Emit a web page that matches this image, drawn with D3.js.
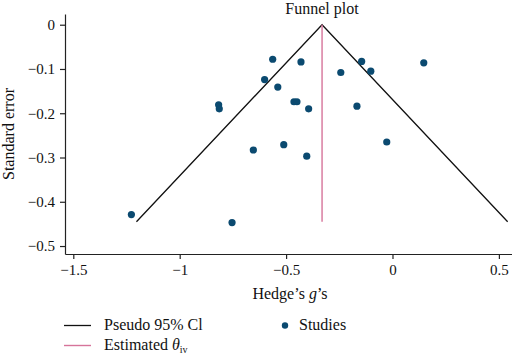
<!DOCTYPE html>
<html lang="en">
<head>
<meta charset="UTF-8">
<title>Funnel plot</title>
<script src="https://cdn.jsdelivr.net/npm/d3@7"></script>
<style>
    body { margin: 0; background: #fff; }
    text { font-family: 'Liberation Serif', 'Times New Roman', serif; font-size: 16px; fill: #111; }
    .domain, .tick line { stroke: #222; }
</style>
</head>
<body>
<svg id="chart" width="512" height="360"></svg>
<script>
// studies: Hedge's g and (negative) standard error
const hedgesG = [-0.563, -0.430, -0.601, -0.539, -0.817, -0.814, -0.463, -0.449, -0.394, -0.654,
                 -0.511, -0.403, -0.145, -0.243, -0.102, 0.147, -0.167, -0.027, -1.227, -0.754];
const stdErr  = [-0.078, -0.084, -0.124, -0.141, -0.181, -0.190, -0.174, -0.174, -0.190, -0.283,
                 -0.271, -0.297, -0.083, -0.108, -0.105, -0.086, -0.184, -0.265, -0.429, -0.447];
const thetaIV = -0.331;
const maxSE = -0.445;
const xTicks = [-1.5, -1, -0.5, 0, 0.5];
const yTicks = [0, -0.1, -0.2, -0.3, -0.4, -0.5];

const svg = d3.select("#chart");
const x = d3.scaleLinear().domain([-1.539, 0.5616]).range([65, 512]);
const y = d3.scaleLinear().domain([0.0242, -0.518]).range([14, 254]);
const fmt = d => d === 0 ? "0" : d3.format("")(d).replace("-", "\u2212");

// axes
const gx = svg.append("g").attr("transform", "translate(0,254)")
    .call(d3.axisBottom(x).tickValues(xTicks).tickFormat(fmt).tickSize(5).tickSizeOuter(0));
gx.selectAll(".tick text").attr("y", 10);
const gy = svg.append("g").attr("transform", "translate(65,0)")
    .call(d3.axisLeft(y).tickValues(yTicks).tickFormat(fmt).tickSize(5).tickSizeOuter(0));
gy.selectAll(".tick text").attr("x", -10);
svg.selectAll(".tick text").style("font-size", "15px").attr("font-family", null);
svg.selectAll(".domain, .tick line").style("stroke-width", 1.2);

// funnel (pseudo 95% CI)
const half = 1.96 * Math.abs(maxSE);
const funnel = [[thetaIV - half, maxSE], [thetaIV, 0], [thetaIV + half, maxSE]];
svg.append("path")
    .attr("d", d3.line().x(d => x(d[0])).y(d => y(d[1]))(funnel))
    .style("fill", "none").style("stroke", "#111").style("stroke-width", 1.3);

// estimated theta
svg.append("line")
    .attr("x1", x(thetaIV)).attr("x2", x(thetaIV))
    .attr("y1", y(0)).attr("y2", y(maxSE))
    .style("stroke", "#d6749a").style("stroke-width", 1.4);

// studies
svg.append("g").selectAll("circle")
    .data(hedgesG.map((g, i) => [g, stdErr[i]])).join("circle")
    .attr("cx", d => x(d[0])).attr("cy", d => y(d[1]))
    .attr("r", 3.6).style("fill", "#0b4a70");

// titles
svg.append("text").attr("x", 322).attr("y", 14).attr("text-anchor", "middle").text("Funnel plot");
const xl = svg.append("text").attr("x", 290).attr("y", 299).attr("text-anchor", "middle");
xl.append("tspan").text("Hedge\u2019s ");
xl.append("tspan").style("font-style", "italic").text("g");
xl.append("tspan").text("\u2019s");
svg.append("text").attr("transform", "translate(14,134) rotate(-90)")
    .attr("text-anchor", "middle").text("Standard error");

// legend
const lg = svg.append("g");
lg.append("line").attr("x1", 64).attr("x2", 91).attr("y1", 325.5).attr("y2", 325.5)
    .style("stroke", "#111").style("stroke-width", 1.3);
lg.append("text").attr("x", 104).attr("y", 330).text("Pseudo 95% Cl");
lg.append("line").attr("x1", 64).attr("x2", 91).attr("y1", 345.5).attr("y2", 345.5)
    .style("stroke", "#d6749a").style("stroke-width", 1.4);
const et = lg.append("text").attr("x", 104).attr("y", 350);
et.append("tspan").text("Estimated ");
et.append("tspan").style("font-style", "italic").text("\u03b8");
et.append("tspan").attr("dy", 3).style("font-size", "10px").text("iv");
lg.append("circle").attr("cx", 285).attr("cy", 325.5).attr("r", 3.2).style("fill", "#0b4a70");
lg.append("text").attr("x", 299).attr("y", 330).text("Studies");
</script>
</body>
</html>
